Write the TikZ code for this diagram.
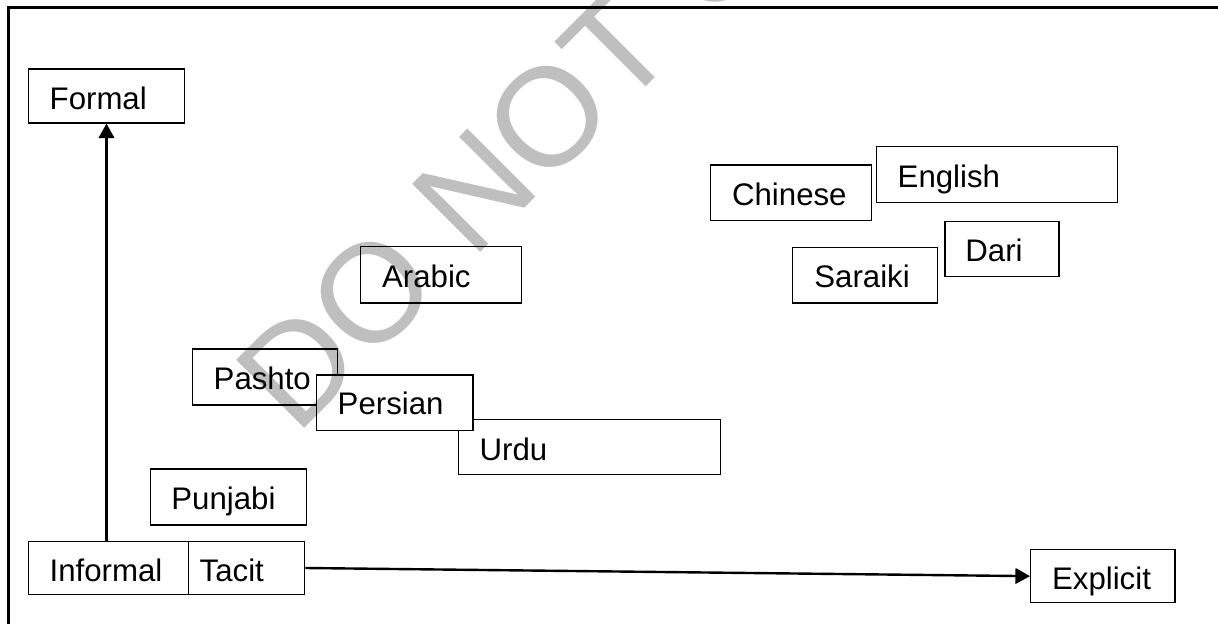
\documentclass[tikz,border=0pt]{standalone}
\usepackage{fontspec}
\setmainfont{Liberation Sans}
\usetikzlibrary{arrows.meta}
\newlength\pxu
\setlength\pxu{0.5pt}
\newcommand\lbfont{\fontsize{15.6}{18}\selectfont}
\newcommand\wmfont{\fontsize{70}{82}\selectfont}
\tikzset{
  box/.style={draw, line width=0.65pt, fill=white, inner sep=0pt, anchor=north west, rectangle},
  lbl/.style={anchor=base west, inner sep=0pt, font=\lbfont},
  axis/.style={line width=1.2pt, -{Triangle[length=7.3pt,width=7.8pt]}},
  frame/.style={line width=1.5pt},
  wmark/.style={rotate=45, anchor=base west, inner sep=0pt, text=black, text opacity=0.25, font=\wmfont}
}
\begin{document}
\begin{tikzpicture}[x=0.5pt, y=-0.5pt]
\useasboundingbox (0,0) rectangle (1218,624);
\clip (0,0) rectangle (1218,624);
\draw[frame] (8,8) rectangle (1240,650);

% boxes
\node[box, minimum width=156.3\pxu, minimum height=54\pxu] (formal) at (27.7,68.3) {};
\node[box, minimum width=160\pxu, minimum height=53.3\pxu] (informal) at (27.7,540.7) {};
\node[box, minimum width=116.3\pxu, minimum height=53.3\pxu] (tacit) at (187.7,540.7) {};
\node[box, minimum width=156\pxu, minimum height=56\pxu] (punjabi) at (150,468.3) {};
\node[box, minimum width=144.3\pxu, minimum height=53\pxu] (explicit) at (1030,549) {};
\node[box, minimum width=144.7\pxu, minimum height=56\pxu] (pashto) at (192,348.3) {};
\node[box, minimum width=262.3\pxu, minimum height=55\pxu] (urdu) at (457.7,419) {};
\node[box, minimum width=156.6\pxu, minimum height=55.7\pxu] (persian) at (315.7,374.3) {};
\node[box, minimum width=160.7\pxu, minimum height=56.3\pxu] (arabic) at (360,246) {};
\node[box, minimum width=160.7\pxu, minimum height=55.7\pxu] (chinese) at (710,164.3) {};
\node[box, minimum width=241\pxu, minimum height=56\pxu] (english) at (875.7,146) {};
\node[box, minimum width=114\pxu, minimum height=55.3\pxu] (dari) at (944.3,220.7) {};
\node[box, minimum width=144.7\pxu, minimum height=55.6\pxu] (saraiki) at (792,246.7) {};

% labels
\node[lbl] (formal-t) at ([shift={(21.6,-14)}]formal.south west) {Formal};
\node[lbl] (informal-t) at ([shift={(21.6,-14)}]informal.south west) {Informal};
\node[lbl] (tacit-t) at ([shift={(11.6,-14)}]tacit.south west) {Tacit};
\node[lbl] (punjabi-t) at ([shift={(21,-16)}]punjabi.south west) {Punjabi};
\node[lbl] (explicit-t) at ([shift={(21.7,-13.7)}]explicit.south west) {Explicit};
\node[lbl] (pashto-t) at ([shift={(21.3,-16)}]pashto.south west) {Pashto};
\node[lbl] (persian-t) at ([shift={(21.6,-16.7)}]persian.south west) {Persian};
\node[lbl] (urdu-t) at ([shift={(21.6,-14.7)}]urdu.south west) {Urdu};
\node[lbl] (arabic-t) at ([shift={(21.7,-16.3)}]arabic.south west) {Arabic};
\node[lbl] (chinese-t) at ([shift={(21.7,-16)}]chinese.south west) {Chinese};
\node[lbl] (english-t) at ([shift={(21.6,-16)}]english.south west) {English};
\node[lbl] (dari-t) at ([shift={(20.7,-15.3)}]dari.south west) {Dari};
\node[lbl] (saraiki-t) at ([shift={(22,-15.6)}]saraiki.south west) {Saraiki};

% axes
\draw[axis] (formal.south |- informal.north) -- (formal.south);
\draw[axis] (tacit.east) -- (explicit.west);

% watermark
\node[wmark] (wm) at (296,437) {DO NOT COPY};
\end{tikzpicture}
\end{document}
